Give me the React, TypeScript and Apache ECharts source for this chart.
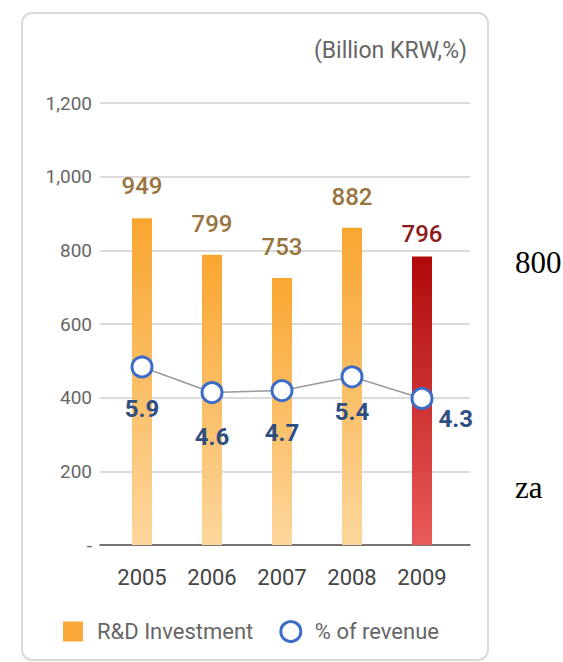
import React, { useEffect, useRef } from "react";
import * as echarts from "echarts";

const years = ["2005", "2006", "2007", "2008", "2009"];
// value printed above each bar
const rdLabels = [949, 799, 753, 882, 796];
// bar heights as drawn in the picture (left axis units)
const rdBarHeights = [887, 788, 725, 861, 783];
const pctValues = [5.9, 4.6, 4.7, 5.4, 4.3];
const yTicks = [0, 200, 400, 600, 800, 1000, 1200];
const yTickLabels = ["-", "200", "400", "600", "800", "1,000", "1,200"];

const FONT = "Roboto, 'Noto Sans', sans-serif";

export default function App() {
  const ref = useRef<HTMLDivElement>(null);
  useEffect(() => {
    if (!ref.current) return;
    const chart = echarts.init(ref.current, undefined, { renderer: "svg" });

    const orangeGrad = new echarts.graphic.LinearGradient(0, 0, 0, 1, [
      { offset: 0, color: "#f9a630" },
      { offset: 1, color: "#fdd69c" },
    ]);
    const redGrad = new echarts.graphic.LinearGradient(0, 0, 0, 1, [
      { offset: 0, color: "#b00a0a" },
      { offset: 1, color: "#ea5a5a" },
    ]);

    const labelDist = [20, 19, 19, 19, 11];
    const pctLabelCfg = [
      { position: "bottom", distance: 19 },
      { position: "bottom", distance: 21 },
      { position: "bottom", distance: 19 },
      { position: "bottom", distance: 12 },
      { position: "right", distance: 5, offset: [0, 21] },
    ];

    chart.setOption({
      animation: false,
      backgroundColor: "#fff",
      grid: [
        { left: 100, width: 370, top: 103, height: 442 },
        { left: 107, width: 350, top: 103, height: 442 },
      ],
      xAxis: [
        {
          gridIndex: 0,
          type: "category",
          data: [""],
          axisLine: { show: true, lineStyle: { color: "#555", width: 1.5 } },
          axisTick: { show: false },
          axisLabel: { show: false },
        },
        {
          gridIndex: 1,
          type: "category",
          data: years,
          axisLine: { show: false },
          axisTick: { show: false },
          axisLabel: {
            color: "#444",
            fontSize: 22,
            fontFamily: FONT,
            margin: 21,
          },
        },
      ],
      yAxis: [
        {
          gridIndex: 0,
          type: "value",
          min: 0,
          max: 1200,
          interval: 200,
          axisLine: { show: false },
          axisTick: { show: false },
          splitLine: { lineStyle: { color: "#cfcfcf", width: 1.5 } },
          axisLabel: {
            color: "#666",
            fontSize: 19,
            fontFamily: FONT,
            margin: 8,
            formatter: (v: number) => yTickLabels[yTicks.indexOf(v)] ?? "",
          },
        },
        {
          gridIndex: 1,
          type: "value",
          min: 0,
          max: 1200,
          show: false,
        },
        {
          gridIndex: 1,
          type: "value",
          min: -3.15,
          max: 19.32,
          show: false,
        },
      ],
      legend: {
        left: 58,
        top: 615,
        itemWidth: 20,
        itemHeight: 20,
        itemGap: 26,
        textStyle: {
          color: "#666",
          fontSize: 22,
          fontFamily: FONT,
          padding: [0, 0, 0, 9],
        },
        data: [
          { name: "R&D Investment", icon: "rect", itemStyle: { color: "#f9a93a" } },
          {
            name: "% of revenue",
            icon: "circle",
            itemStyle: { color: "#fff", borderColor: "#3d6cc8", borderWidth: 3 },
          },
        ],
      },
      graphic: [
        {
          type: "rect",
          shape: { x: 22, y: 13, width: 466, height: 647, r: 10 },
          style: { fill: "none", stroke: "#d9d9d9", lineWidth: 2 },
          z: -1,
        },
        {
          type: "text",
          x: 467,
          y: 50,
          style: {
            text: "(Billion KRW,%)",
            align: "right",
            verticalAlign: "middle",
            fill: "#666",
            fontSize: 23,
            fontFamily: FONT,
          },
        },
        {
          type: "text",
          x: 515,
          y: 262,
          style: {
            text: "800",
            align: "left",
            verticalAlign: "middle",
            fill: "#000",
            fontSize: 31,
            fontFamily: "'Liberation Serif', 'DejaVu Serif', serif",
          },
        },
        {
          type: "text",
          x: 515,
          y: 487,
          style: {
            text: "za",
            align: "left",
            verticalAlign: "middle",
            fill: "#000",
            fontSize: 31,
            fontFamily: "'Liberation Serif', 'DejaVu Serif', serif",
          },
        },
      ],
      series: [
        {
          name: "R&D Investment",
          type: "bar",
          xAxisIndex: 1,
          yAxisIndex: 1,
          barWidth: 20,
          itemStyle: { color: "#f9a93a" },
          data: rdBarHeights.map((h, i) => ({
            value: h,
            itemStyle: { color: i === 4 ? redGrad : orangeGrad },
            label: {
              show: true,
              position: "top",
              distance: labelDist[i],
              formatter: String(rdLabels[i]),
              color: i === 4 ? "#8c1c1c" : "#9a7440",
              fontSize: 24,
              fontWeight: 500,
              fontFamily: FONT,
            },
          })),
        },
        {
          name: "% of revenue",
          type: "line",
          xAxisIndex: 1,
          yAxisIndex: 2,
          symbol: "circle",
          symbolSize: 20,
          lineStyle: { color: "#9a9a9a", width: 1.5 },
          itemStyle: { color: "#fff", borderColor: "#3d6cc8", borderWidth: 3 },
          z: 5,
          data: pctValues.map((v, i) => ({
            value: v,
            label: {
              show: true,
              ...pctLabelCfg[i],
              formatter: String(v),
              color: "#2f4f82",
              fontSize: 24,
              fontWeight: "bold",
              fontFamily: FONT,
            },
          })),
        },
      ],
    });
    return () => chart.dispose();
  }, []);
  return (
    <div
      ref={ref}
      style={{ position: "fixed", left: 0, top: 0, width: 563, height: 662 }}
    />
  );
}
